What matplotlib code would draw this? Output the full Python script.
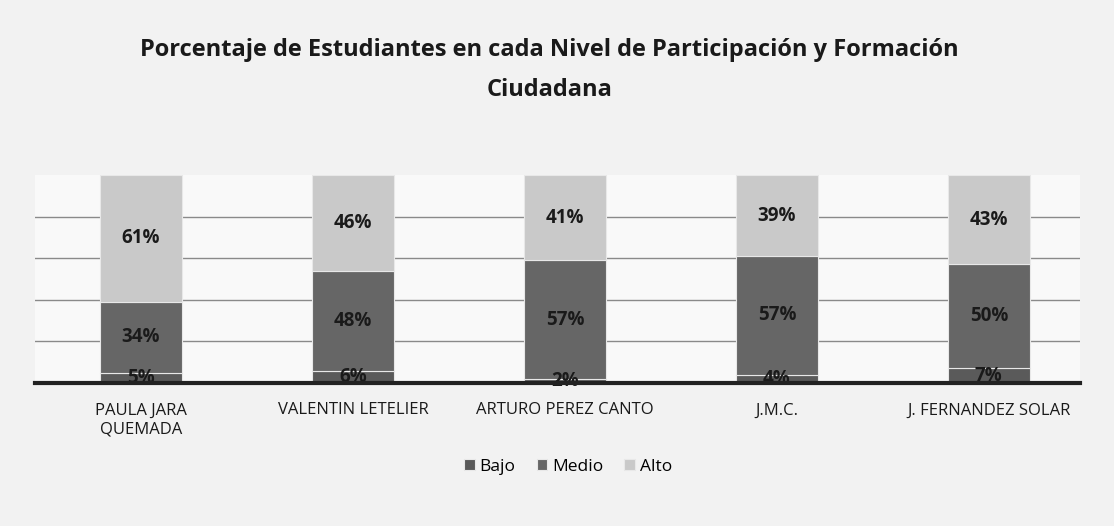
import matplotlib
matplotlib.use("Agg")
import matplotlib.pyplot as plt
import numpy as np

categories = ["PAULA JARA\nQUEMADA", "VALENTIN LETELIER", "ARTURO PEREZ CANTO", "J.M.C.", "J. FERNANDEZ SOLAR"]
bajo = [5, 6, 2, 4, 7]
medio = [34, 48, 57, 57, 50]
alto = [61, 46, 41, 39, 43]
series_names = ["Bajo", "Medio", "Alto"]
colors = ["#5a5a5a", "#666666", "#c9c9c9"]

plt.rcParams['font.family'] = ['Open Sans', 'DejaVu Sans']

fig = plt.figure(figsize=(11.14, 5.26), dpi=100)
fig.patch.set_facecolor("#f2f2f2")
ax = fig.add_axes([35/1114, 1-383/526, 1045/1114, 208/526])
ax.set_facecolor("#f9f9f9")

x = np.arange(len(categories))
w = 0.39
bottom = np.zeros(len(categories))
for vals, name, c in zip([bajo, medio, alto], series_names, colors):
    ax.bar(x, vals, w, bottom=bottom, color=c, label=name, zorder=3,
           edgecolor="#e8e8e8", linewidth=0.8)
    for xi, v, b in zip(x, vals, bottom):
        ax.text(xi, b + v/2, f"{v}%", ha="center", va="center", fontsize=13.5,
                fontweight="bold", color="#1a1a1a", zorder=4)
    bottom += np.array(vals)

ax.set_xlim(-0.5, 4.43)
ax.set_ylim(0, 100)
ax.set_yticks([20, 40, 60, 80])
ax.yaxis.grid(True, color="#8a8a8a", linewidth=1.0, zorder=0)
ax.tick_params(axis="y", left=False, labelleft=False)
ax.tick_params(axis="x", length=0, pad=14, labelsize=12, colors="#1a1a1a")
ax.set_xticks(x)
ax.set_xticklabels(categories, linespacing=1.25, va="top")
for s in ["top", "right", "left"]:
    ax.spines[s].set_visible(False)
ax.spines["bottom"].set_color("#222222")
ax.spines["bottom"].set_linewidth(3)
ax.spines["bottom"].set_zorder(5)

fig.text(0.493, 1-50/526, "Porcentaje de Estudiantes en cada Nivel de Participación y Formación",
         ha="center", va="center", fontsize=17, fontweight="bold", color="#1a1a1a")
fig.text(0.493, 1-90/526, "Ciudadana",
         ha="center", va="center", fontsize=17, fontweight="bold", color="#1a1a1a")

fig.legend(loc="center", bbox_to_anchor=(0.51, 1-467/526), ncol=3, frameon=False,
           fontsize=12.5, handlelength=0.6, handleheight=0.6, handletextpad=0.3,
           columnspacing=1.2)

fig.savefig("out.png", dpi=100, facecolor=fig.get_facecolor())
